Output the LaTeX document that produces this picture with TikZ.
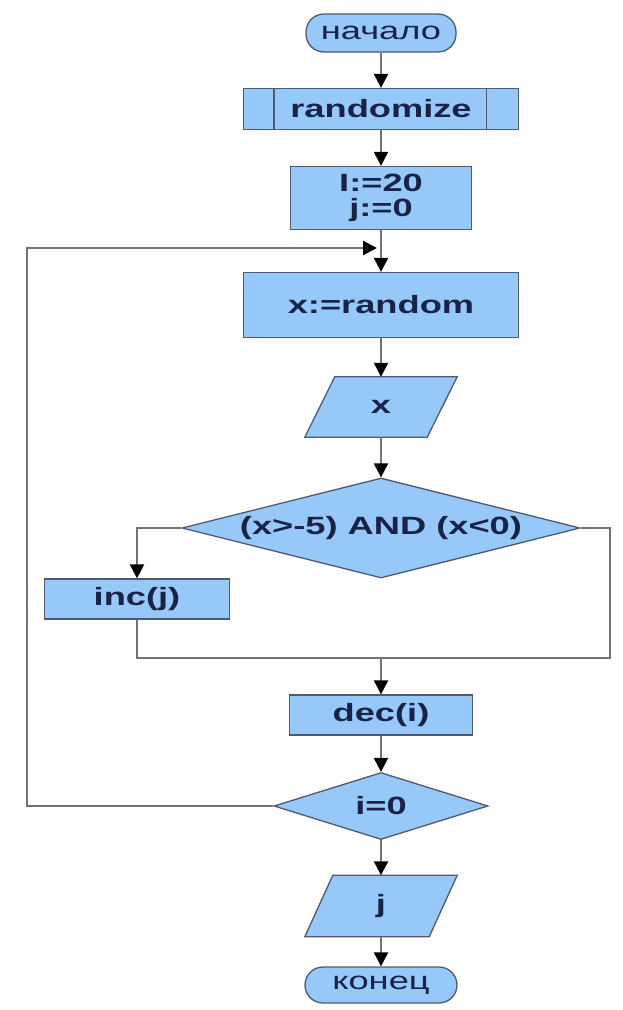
\documentclass[tikz,border=0pt]{standalone}
\usepackage{fontspec}
\newfontfamily\ffam{Liberation Sans}[FakeStretch=1.45]
\usetikzlibrary{arrows.meta,shapes.geometric,backgrounds}
\definecolor{boxfill}{RGB}{150,200,250}
\definecolor{boxline}{RGB}{80,90,110}
\definecolor{txt}{RGB}{25,35,70}
\definecolor{wire}{RGB}{115,115,115}
\begin{document}
\begin{tikzpicture}[x=1pt,y=-1pt,
  base/.style={fill=boxfill,draw=boxline,line width=1.3pt,inner sep=0pt,text=txt,
    font=\ffam\bfseries\fontsize{25}{25}\selectfont,align=center},
  procbox/.style={base,rectangle},
  termbox/.style={base,rectangle,rounded corners=18pt,font=\ffam\fontsize{25}{25}\selectfont},
  decbox/.style={base,diamond},
  iobox/.style={inner sep=0pt,text=txt,font=\ffam\bfseries\fontsize{25}{25}\selectfont},
  ioshape/.style={fill=boxfill,draw=boxline,line width=1.3pt},
  wireline/.style={draw=wire,line width=2.2pt},
  flow/.style={wireline,-{Triangle[width=14pt,length=14pt,color=black]}},
]
\useasboundingbox (0,0) rectangle (622,1010);

\node[termbox,minimum width=150pt,minimum height=38pt] (start) at (381,33) {начало};
\node[procbox,minimum width=275pt,minimum height=41pt] (rand) at (381,109) {randomize};
\draw[boxline,line width=1.3pt] ([xshift=31pt]rand.north west) -- ([xshift=31pt]rand.south west);
\draw[boxline,line width=1.3pt] ([xshift=-33pt]rand.north east) -- ([xshift=-33pt]rand.south east);
\node[procbox,minimum width=181pt,minimum height=63pt] (init) at (381,198) {I:=20\\j:=0};
\node[procbox,minimum width=275pt,minimum height=65pt] (xr) at (381,305) {x:=random};
\node[iobox,minimum width=122pt,minimum height=60pt] (inX) at (381,407) {x};
\node[decbox,aspect=3.98,minimum width=398pt,minimum height=100pt] (cond) at (381,528) {(x>-5) AND (x<0)};
\node[procbox,minimum width=185pt,minimum height=40pt] (inc) at (137,599) {inc(j)};
\node[procbox,minimum width=183pt,minimum height=40pt] (dec) at (381,715) {dec(i)};
\node[decbox,aspect=3.2,minimum width=214pt,minimum height=67pt] (izero) at (381,806) {i=0};
\node[iobox,minimum width=124pt,minimum height=61pt] (outJ) at (381,906) {j};
\node[termbox,minimum width=152pt,minimum height=36pt] (stop) at (381,985) {конец};

\begin{scope}[on background layer]
\fill[white] (0,0) rectangle (622,1010);
\filldraw[ioshape] ([xshift=15pt]inX.north west) -- ([xshift=15pt]inX.north east)
  -- ([xshift=-15pt]inX.south east) -- ([xshift=-15pt]inX.south west) -- cycle;
\filldraw[ioshape] ([xshift=14pt]outJ.north west) -- ([xshift=14pt]outJ.north east)
  -- ([xshift=-14pt]outJ.south east) -- ([xshift=-14pt]outJ.south west) -- cycle;
\end{scope}

\coordinate (lj) at (137,528);
\coordinate (rj) at (610,528);
\coordinate (lb) at (137,658);
\coordinate (rb) at (610,658);
\coordinate (mg) at (381,658);
\coordinate (loopA) at (27,806);
\coordinate (loopB) at (27,248);
\coordinate (loopC) at (377,248);

\draw[flow] (start.south) -- (rand.north);
\draw[flow] (rand.south) -- (init.north);
\draw[flow] (init.south) -- (xr.north);
\draw[flow] (xr.south) -- (inX.north);
\draw[flow] (inX.south) -- (cond.north);
\draw[flow] (cond.west) -- (lj) -- (inc.north);
\draw[wireline] (inc.south) -- (lb) -- (rb) -- (rj) -- (cond.east);
\draw[flow] (mg) -- (dec.north);
\draw[flow] (dec.south) -- (izero.north);
\draw[flow] (izero.south) -- (outJ.north);
\draw[flow] (outJ.south) -- (stop.north);
\draw[flow] (izero.west) -- (loopA) -- (loopB) -- (loopC);
\end{tikzpicture}
\end{document}
